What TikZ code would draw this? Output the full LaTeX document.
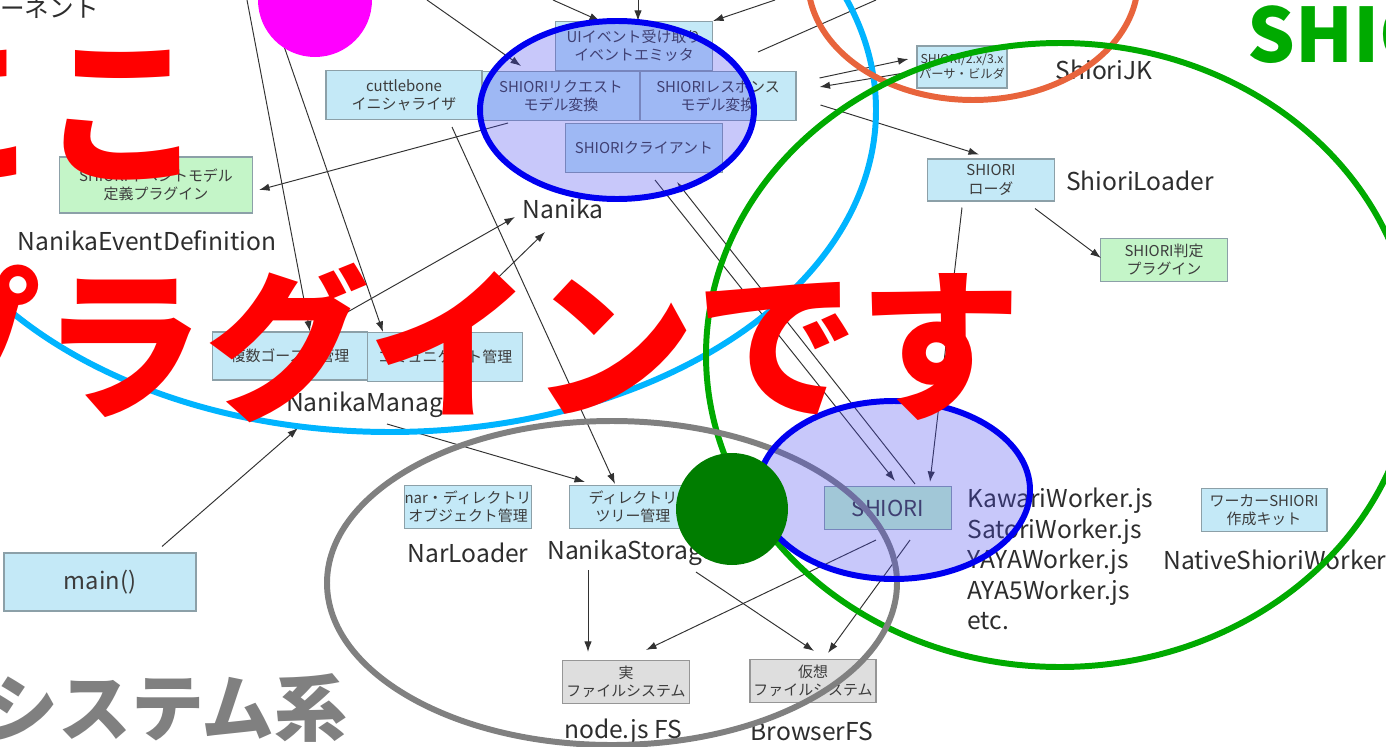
\documentclass[tikz,border=0pt]{standalone}
\usepackage{fontspec}
\setmainfont{Noto Sans CJK JP}
\usetikzlibrary{arrows.meta,calc}

\definecolor{boxblue}{RGB}{196,233,247}
\definecolor{boxline}{RGB}{140,160,168}
\definecolor{boxtext}{RGB}{60,60,60}
\definecolor{plugingreen}{RGB}{196,245,200}
\definecolor{fsgray}{RGB}{222,222,222}
\definecolor{fsline}{RGB}{150,150,150}
\definecolor{shioriteal}{RGB}{200,255,205}
\definecolor{lbltext}{RGB}{45,45,45}
\definecolor{linkgray}{RGB}{50,50,50}
\definecolor{cyanring}{RGB}{0,180,255}
\definecolor{orangering}{RGB}{232,100,60}
\definecolor{greenring}{RGB}{0,170,0}
\definecolor{grayring}{RGB}{128,128,128}
\definecolor{bluering}{RGB}{0,0,240}
\definecolor{lavfill}{RGB}{72,72,240}
\definecolor{darkgreen}{RGB}{0,125,0}
\definecolor{pinkdot}{RGB}{255,0,255}

\begin{document}
\begin{tikzpicture}[x=0.02cm,y=-0.02cm,
    box/.style 2 args={draw=boxline,line width=0.6pt,fill=boxblue,text=boxtext,
      minimum width=#1,minimum height=#2,inner sep=0pt,align=center,
      font=\fontsize{8.5}{10.5}\selectfont},
    plugin/.style={fill=plugingreen},
    fsbox/.style={fill=fsgray,draw=fsline},
    lbl/.style={text=lbltext,inner sep=0pt,font=\fontsize{14}{17.4}\selectfont},
    link/.style={draw=linkgray,line width=0.55pt},
    arr/.style={link,-{Latex[length=6pt,width=4.2pt]}},
    ring/.style={line width=3.4pt},
    bigtxt/.style={inner sep=0pt,font=\fontsize{#1}{#1}\selectfont\bfseries}]
    \useasboundingbox (0,0) rectangle (1386,747);
    \clip (0,0) rectangle (1386,747);

    \node[box={3.12cm}{0.98cm}] (cbinit) at (404,95) {cuttlebone\\イニシャライザ};
    \node[box={3.14cm}{0.98cm}] (uiemit) at (634,46) {UIイベント受け取り\\イベントエミッタ};
    \node[box={3.14cm}{0.98cm}] (reqconv) at (561,96) {SHIORIリクエスト\\モデル変換};
    \node[box={3.12cm}{0.98cm}] (resconv) at (718,96) {SHIORIレスポンス\\モデル変換};
    \node[box={3.14cm}{0.98cm}] (client) at (644,148) {SHIORIクライアント};
    \node[box={3.86cm}{1.12cm},plugin] (evdef) at (156,185) {SHIORIイベントモデル\\定義プラグイン};
    \node[box={1.8cm}{0.84cm},font=\fontsize{7}{8.5}\selectfont] (jk) at (962,67) {SHIORI/2.x/3.x\\パーサ・ビルダ};
    \node[box={2.54cm}{0.84cm}] (loader) at (991,180) {SHIORI\\ローダ};
    \node[box={2.54cm}{0.86cm},plugin] (judge) at (1164,260) {SHIORI判定\\プラグイン};
    \node[box={3.1cm}{0.96cm}] (multi) at (290,356) {複数ゴースト管理};
    \node[box={3.1cm}{0.98cm}] (comm) at (445,357) {コミュニケート管理};
    \node[box={3.84cm}{1.16cm},font=\fontsize{13.5}{15}\selectfont] (mainfn) at (100,582) {main()};
    \node[box={2.54cm}{0.86cm}] (narobj) at (468,507) {nar・ディレクトリ\\オブジェクト管理};
    \node[box={2.54cm}{0.86cm}] (dirtree) at (633,507) {ディレクトリ\\ツリー管理};
    \node[box={2.54cm}{0.86cm},fill=shioriteal,font=\fontsize{12.5}{15}\selectfont] (shiori) at (888,508) {SHIORI};
    \node[box={2.52cm}{0.86cm}] (kit) at (1264,510) {ワーカーSHIORI\\作成キット};
    \node[box={2.54cm}{0.86cm},fsbox] (realfs) at (626,682) {実\\ファイルシステム};
    \node[box={2.52cm}{0.86cm},fsbox] (virtfs) at (813,681) {仮想\\ファイルシステム};

    \node[lbl,anchor=west] (comp) at (0,8) {ーネント};
    \node[lbl] (evdeflbl) at (147,241) {NanikaEventDefinition};
    \node[lbl] (nanika) at (563,209) {Nanika};
    \node[lbl] (mgr) at (376,405) {NanikaManager};
    \node[lbl] (jklbl) at (1104,70) {ShioriJK};
    \node[lbl] (ldrlbl) at (1140,181) {ShioriLoader};
    \node[lbl] (narlbl) at (468,553) {NarLoader};
    \node[lbl,anchor=west] (storage) at (547,553) {NanikaStorage};
    \node[lbl] (nodefs) at (623,732) {node.js FS};
    \node[lbl] (brfs) at (812,731) {BrowserFS};
    \node[lbl,anchor=west,align=left] (workers) at (967,559) {KawariWorker.js\\SatoriWorker.js\\YAYAWorker.js\\AYA5Worker.js\\etc.};
    \node[lbl,anchor=west] (native) at (1163,560) {NativeShioriWorker};

    \foreach \n/\x in {1/247,2/268,3/427,4/553,5/638,6/775,7/876}
        \coordinate (up\n) at (\x,0);
    \coordinate (mid7) at (758,52);

    \draw[arr] (up1) -- ($(multi.north)+(20,0)$);
    \draw[arr] (up2) -- ($(comm.north)+(-62,0)$);
    \draw[arr] (up3) -- ($(reqconv.north)+(-40,-5)$);
    \draw[arr] (up4) -- ($(uiemit.north)+(-34,0)$);
    \draw[arr] (up5) -- (uiemit.north -| up5);
    \draw[arr] (up6) -- (uiemit.north east);
    \draw[link] (up7) -- (mid7);
    \draw[arr] ($(resconv.east)+(23,-18)$) -- ($(jk.west)+(-8,-8)$);
    \draw[arr] ($(jk.west)+(-6,5)$) -- ($(resconv.east)+(23,-9)$);
    \draw[arr] ($(resconv.east)+(24,9)$) -- ($(loader.north)+(-12,-4)$);
    \draw[arr] ($(reqconv.south)+(-53,2)$) -- ($(evdef.east)+(6,5)$);
    \draw[arr] ($(cbinit.south)+(48,7)$) -- ($(dirtree.north)+(-18,-1)$);
    \draw[arr] ($(multi.north)+(25,-1)$) -- ($(nanika.center)+(-48,8)$);
    \draw[arr] ($(comm.north)+(-3,0)$) -- ($(nanika.center)+(-18,23)$);
    \draw[arr] ($(mainfn.north)+(62,-6)$) -- ($(mgr.center)+(-78,23)$);
    \draw[arr] ($(mgr.center)+(11,19)$) -- ($(dirtree.north)+(-48,-3)$);
    \draw[arr] ($(client.south)+(11,7)$) -- ($(shiori.north)+(7,-5)$);
    \draw[arr] ($(shiori.north)+(27,-2)$) -- ($(client.south)+(33,9)$);
    \draw[arr] ($(loader.south)+(-29,6)$) -- ($(shiori.north)+(42,-4)$);
    \draw[arr] ($(loader.south)+(44,7)$) -- ($(judge.west)+(1,-2)$);
    \draw[arr] ($(shiori.south)+(-12,10)$) -- ($(realfs.north)+(20,-10)$);
    \draw[arr] ($(shiori.south)+(22,10)$) -- ($(virtfs.north)+(15,-6)$);
    \draw[arr] ($(storage.west)+(41,17)$) -- ($(realfs.north)+(-38,-8)$);
    \draw[arr] ($(storage.west)+(149,19)$) -- ($(virtfs.north)+(1,-8)$);

    \draw[ring,cyanring] (390,110) ellipse [x radius=486,y radius=322];
    \draw[ring,orangering] (973,-20) ellipse [x radius=165,y radius=120];
    \draw[ring,greenring] (1060,355) ellipse [x radius=354,y radius=312];
    \draw[ring,grayring] (612,583) ellipse [x radius=285,y radius=162];
    \draw[ring,draw=bluering,fill=lavfill,fill opacity=0.3] (617,110) ellipse [x radius=137,y radius=89];
    \draw[ring,draw=bluering,fill=lavfill,fill opacity=0.3] (894,490) ellipse [x radius=136,y radius=89];
    \fill[pinkdot] (315,0) circle [radius=57];
    \fill[darkgreen] (732,509) circle [radius=56];

    \node[bigtxt=93,anchor=base west,text=red] (here) at (-122,171) {ここ};
    \node[bigtxt=93,anchor=base west,text=red] (plugtxt) at (-122,406) {プラグインです};
    \node[bigtxt=41.5,anchor=base east,text=grayring] (systxt) at (348,735) {システム系};
    \node[bigtxt=42.7,anchor=base west,text=greenring] (shiotxt) at (1247,62) {SHIO};
\end{tikzpicture}
\end{document}
